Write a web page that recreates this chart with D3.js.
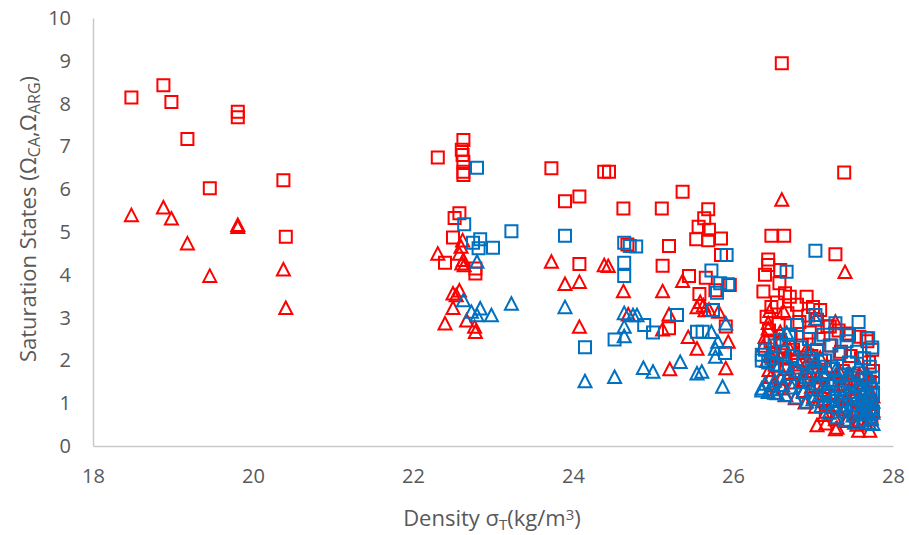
<!DOCTYPE html>
<html>
<head>
<meta charset="utf-8">
<script src="https://cdn.jsdelivr.net/npm/d3@7"></script>
<style>
  html, body { margin: 0; padding: 0; background: #ffffff; }
  svg { display: block; }
  text { font-family: "Open Sans", "Noto Sans", sans-serif; fill: #595959; }
</style>
</head>
<body>
<svg id="chart" width="909" height="535"></svg>
<script>
// Saturation states of calcite (squares) and aragonite (triangles) against density sigma-T.
// Two groups of stations: red and blue. Each point is [sigmaT, omega].

const xTicks = [18, 20, 22, 24, 26, 28];
const yTicks = [0, 1, 2, 3, 4, 5, 6, 7, 8, 9, 10];

const redCalcite = [
  [18.48,8.14],[18.88,8.43],[18.98,8.04],[19.18,7.17],[19.46,6.02],[19.81,7.81],[19.81,7.68],[20.38,6.21],[20.41,4.89],
  [22.31,6.74],[22.63,7.15],[22.61,6.92],[22.62,6.80],[22.63,6.64],[22.63,6.41],[22.63,6.33],
  [22.58,5.44],[22.52,5.33],[22.50,4.87],[22.40,4.28],[22.78,4.15],[22.78,4.03],
  [23.73,6.49],[23.90,5.72],[24.08,5.83],[24.08,4.25],[24.39,6.41],[24.45,6.41],[24.63,5.55],[24.68,4.71],
  [25.11,5.55],[25.12,4.21],[25.20,4.67],[25.20,2.75],[25.37,5.94],
  [25.69,5.53],[25.64,5.32],[25.57,5.12],[25.70,5.05],[25.54,4.83],[25.69,4.81],[25.85,4.85],[25.85,4.46],
  [25.45,3.97],[25.66,3.93],[25.96,3.76],[25.58,3.55],[25.78,3.64],[25.91,2.79],
  [26.61,8.94],[27.39,6.39],[26.48,4.91],[26.64,4.91],[27.28,4.48],[26.44,4.36],[26.44,4.23],[26.59,4.11],[26.40,4.00],
  [26.58,3.80],[26.38,3.61],[26.65,3.57],[26.71,3.49],[26.92,3.49],[26.48,3.25],[27.00,3.25],[27.09,3.18],
  [27.21,2.79],[27.42,2.63],[27.67,2.52],
  [26.42,3.02],[26.45,2.70],[26.47,2.45],[26.50,2.15],[26.52,1.90],[26.55,3.35],[26.57,2.85],[26.60,2.40],[26.62,2.05],
  [26.66,1.80],[26.68,3.10],[26.72,2.60],[26.75,2.25],[26.78,1.70],[26.80,3.30],[26.83,2.90],[26.86,2.35],[26.88,1.95],
  [26.90,1.55],[26.94,3.05],[26.96,2.65],[26.98,2.10],[27.01,1.75],[27.03,1.40],[27.05,2.95],[27.07,2.50],[27.10,2.00],
  [27.12,1.60],[27.14,1.10],[27.16,0.80],[27.18,2.80],[27.21,2.35],[27.23,1.85],[27.25,1.45],[27.28,0.95],[27.30,0.65],
  [27.32,2.70],[27.35,2.20],[27.37,1.75],[27.40,1.30],[27.42,0.90],[27.45,2.60],[27.47,2.10],[27.50,1.65],[27.52,1.20],
  [27.55,0.75],[27.57,0.58],[27.58,2.55],[27.60,2.05],[27.62,1.55],[27.64,1.15],[27.66,0.80],[27.68,2.45],[27.70,1.95],
  [27.71,1.50],[27.72,1.05],[27.73,0.62],[27.74,2.25],[27.75,1.75],[27.75,1.25]
];

const redAragonite = [
  [18.48,5.40],[18.88,5.58],[18.98,5.32],[19.18,4.74],[19.46,3.98],[19.81,5.12],[19.81,5.17],[20.38,4.13],[20.41,3.23],
  [22.31,4.50],[22.62,4.81],[22.60,4.66],[22.58,4.50],[22.63,4.35],[22.64,4.23],[22.61,4.27],
  [22.58,3.64],[22.50,3.57],[22.54,3.53],[22.50,3.23],[22.40,2.87],[22.67,2.94],[22.77,2.79],[22.78,2.67],
  [23.73,4.31],[23.90,3.79],[24.08,3.84],[24.08,2.79],[24.39,4.23],[24.44,4.21],[24.63,3.62],[24.69,3.08],
  [25.12,3.62],[25.20,3.08],[25.12,2.73],[25.21,1.80],[25.37,3.86],[25.44,2.55],
  [25.59,3.37],[25.55,3.25],[25.63,3.29],[25.65,3.18],[25.70,3.19],[25.82,3.14],[25.55,2.28],[25.91,1.82],[25.94,2.44],
  [26.61,5.76],[27.40,4.07],[26.46,3.16],[26.63,3.16],[27.28,2.91],[26.44,2.88],[26.44,2.75],[26.59,2.67],[26.40,2.55],
  [26.58,2.47],[26.38,2.35],[26.65,2.32],[26.71,2.27],[26.92,2.27],[26.48,2.11],[27.00,2.11],[27.09,2.07],
  [26.42,1.99],[26.45,1.78],[26.47,1.62],[26.50,1.42],[26.52,1.25],[26.55,2.21],[26.57,1.88],[26.60,1.58],[26.62,1.35],
  [26.66,1.19],[26.68,2.05],[26.72,1.72],[26.75,1.49],[26.78,1.12],[26.80,2.18],[26.83,1.91],[26.86,1.55],[26.88,1.29],
  [26.90,1.02],[26.94,2.01],[26.96,1.75],[26.98,1.39],[27.01,1.16],[27.03,0.92],[27.05,1.95],[27.07,1.65],[27.10,1.32],
  [27.12,1.06],[27.14,0.73],[27.16,0.53],[27.18,1.85],[27.21,1.55],[27.23,1.22],[27.25,0.96],[27.28,0.63],[27.30,0.43],
  [27.32,1.78],[27.35,1.45],[27.37,1.16],[27.40,0.86],[27.42,0.59],[27.45,1.72],[27.47,1.39],[27.50,1.09],[27.52,0.79],
  [27.55,0.50],[27.57,0.36],[27.58,1.68],[27.60,1.35],[27.62,1.02],[27.64,0.76],[27.66,0.53],[27.68,1.62],[27.70,1.29],
  [27.71,0.99],[27.72,0.69],[27.71,0.36],[27.74,1.49],[27.75,1.16],[27.75,0.83],[27.05,0.49],[27.28,0.40],[27.57,0.61]
];

const blueCalcite = [
  [22.80,6.50],[22.64,5.18],[22.75,4.75],[22.84,4.83],[22.82,4.62],[23.00,4.63],[23.23,5.02],
  [23.90,4.91],[24.15,2.31],[24.64,4.75],[24.71,4.67],[24.79,4.66],[24.64,4.28],[24.64,3.97],
  [24.89,2.83],[25.00,2.65],[24.52,2.49],[25.30,3.06],
  [25.92,4.46],[25.73,4.10],[25.84,3.80],[25.94,3.78],[25.80,3.58],[25.75,3.18],[25.55,2.67],[25.62,2.67],[25.90,2.17],
  [26.36,2.13],[26.36,2.00],[26.40,2.25],[26.44,1.95],[26.48,2.05],[26.52,2.35],[26.55,1.90],[26.59,2.48],[26.62,2.20],
  [26.65,1.85],[26.67,4.07],[26.70,2.60],[26.74,2.10],[26.78,1.75],[26.80,2.83],[26.84,2.30],[26.88,1.95],[26.92,1.60],
  [26.95,2.50],[26.98,2.05],[27.00,1.70],[27.03,3.06],[27.03,4.56],[27.05,2.25],[27.08,1.85],[27.10,1.45],[27.13,2.60],
  [27.15,2.00],[27.18,1.55],[27.20,1.20],[27.23,2.35],[27.25,1.80],[27.28,2.87],[27.28,1.40],[27.30,1.05],[27.33,2.15],
  [27.35,1.65],[27.38,1.25],[27.40,0.95],[27.42,2.45],[27.44,2.59],[27.45,1.95],[27.48,1.50],[27.50,1.10],[27.52,0.85],
  [27.55,2.20],[27.57,2.90],[27.58,1.70],[27.60,1.30],[27.62,0.95],[27.64,2.05],[27.66,1.55],[27.68,1.15],[27.69,2.52],
  [27.70,0.85],[27.71,1.85],[27.72,1.35],[27.73,1.00],[27.74,2.30],[27.75,1.60],[27.75,1.20],[27.75,0.80]
];

const blueAragonite = [
  [22.80,4.31],[22.63,3.41],[22.84,3.22],[22.73,3.14],[22.80,3.06],[22.98,3.06],[23.23,3.33],
  [23.90,3.25],[24.64,3.11],[24.75,3.06],[24.80,3.06],[24.64,2.79],[24.64,2.57],
  [24.15,1.52],[24.52,1.62],[24.88,1.83],[25.00,1.74],
  [25.91,2.87],[25.73,2.67],[25.81,2.44],[25.78,2.28],[25.78,2.09],[25.34,1.97],[25.55,1.70],[25.61,1.74],[25.87,1.39],
  [26.36,1.35],[26.36,1.30],[26.40,1.46],[26.44,1.27],[26.48,1.33],[26.52,1.53],[26.55,1.24],[26.59,1.61],[26.62,1.43],
  [26.65,1.20],[26.67,2.65],[26.70,1.69],[26.74,1.37],[26.78,1.14],[26.80,1.84],[26.84,1.50],[26.88,1.27],[26.92,1.04],
  [26.95,1.63],[26.98,1.33],[27.00,1.10],[27.03,1.99],[27.03,2.98],[27.05,1.46],[27.08,1.20],[27.10,0.94],[27.13,1.69],
  [27.15,1.30],[27.18,1.01],[27.20,0.78],[27.23,1.53],[27.25,1.17],[27.28,1.78],[27.28,0.91],[27.30,0.68],[27.33,1.40],
  [27.35,1.07],[27.38,0.81],[27.40,0.62],[27.42,1.66],[27.44,1.68],[27.45,1.27],[27.48,0.97],[27.50,0.72],[27.52,0.55],
  [27.55,1.43],[27.57,1.88],[27.58,1.10],[27.60,0.85],[27.62,0.62],[27.64,1.33],[27.66,1.01],[27.68,0.75],[27.69,1.64],
  [27.70,0.55],[27.71,1.20],[27.72,0.88],[27.73,0.65],[27.74,1.50],[27.75,1.04],[27.75,0.78],[27.75,0.52]
];

const RED = "#ff0000";
const BLUE = "#0070c0";
const AXIS = "#c9c9c9";

const svg = d3.select("#chart");
const plot = { left: 93, right: 893, top: 18, bottom: 446 };

const x = d3.scaleLinear().domain([18, 28]).range([plot.left, plot.right]);
const y = d3.scaleLinear().domain([0, 10]).range([plot.bottom, plot.top]);

// Axes: light grey lines, no tick marks
const xAxis = svg.append("g")
  .attr("transform", `translate(0,${plot.bottom})`)
  .call(d3.axisBottom(x).tickValues(xTicks).tickSize(0).tickPadding(23).tickFormat(d3.format("d")));
const yAxis = svg.append("g")
  .attr("transform", `translate(${plot.left},0)`)
  .call(d3.axisLeft(y).tickValues(yTicks).tickSize(0).tickPadding(22).tickFormat(d3.format("d")));

[xAxis, yAxis].forEach(g => {
  g.select(".domain").attr("stroke", AXIS).attr("stroke-width", 1.5);
  g.selectAll("text")
    .attr("fill", "#595959")
    .style("font-family", '"Open Sans", sans-serif')
    .style("font-size", "20px");
});

// Marker shapes
const squarePath = d3.symbol().type(d3.symbolSquare).size(144)();
const triH = 12.5, triW = 13;
const trianglePath = `M0,${-triH / 2}L${triW / 2},${triH / 2}L${-triW / 2},${triH / 2}Z`;

function drawSeries(data, path, color) {
  svg.append("g")
    .selectAll("path")
    .data(data)
    .join("path")
    .attr("d", path)
    .attr("transform", d => `translate(${x(d[0])},${y(d[1])})`)
    .attr("fill", "none")
    .attr("stroke", color)
    .attr("stroke-width", 2);
}

drawSeries(redCalcite, squarePath, RED);
drawSeries(redAragonite, trianglePath, RED);
drawSeries(blueCalcite, squarePath, BLUE);
drawSeries(blueAragonite, trianglePath, BLUE);

// Axis titles
const xTitle = svg.append("text")
  .attr("x", 492)
  .attr("y", 526)
  .attr("text-anchor", "middle")
  .style("font-size", "22px");
xTitle.append("tspan").text("Density σ");
xTitle.append("tspan").attr("baseline-shift", "-25%").style("font-size", "15px").text("T");
xTitle.append("tspan").text("(kg/m");
xTitle.append("tspan").attr("baseline-shift", "40%").style("font-size", "15px").text("3");
xTitle.append("tspan").text(")");

const yTitle = svg.append("text")
  .attr("transform", "translate(36,219) rotate(-90)")
  .attr("text-anchor", "middle")
  .style("font-size", "22px");
yTitle.append("tspan").text("Saturation States (Ω");
yTitle.append("tspan").attr("baseline-shift", "-25%").style("font-size", "16px").text("CA");
yTitle.append("tspan").text(",Ω");
yTitle.append("tspan").attr("baseline-shift", "-25%").style("font-size", "16px").text("ARG");
yTitle.append("tspan").text(")");
</script>
</body>
</html>
